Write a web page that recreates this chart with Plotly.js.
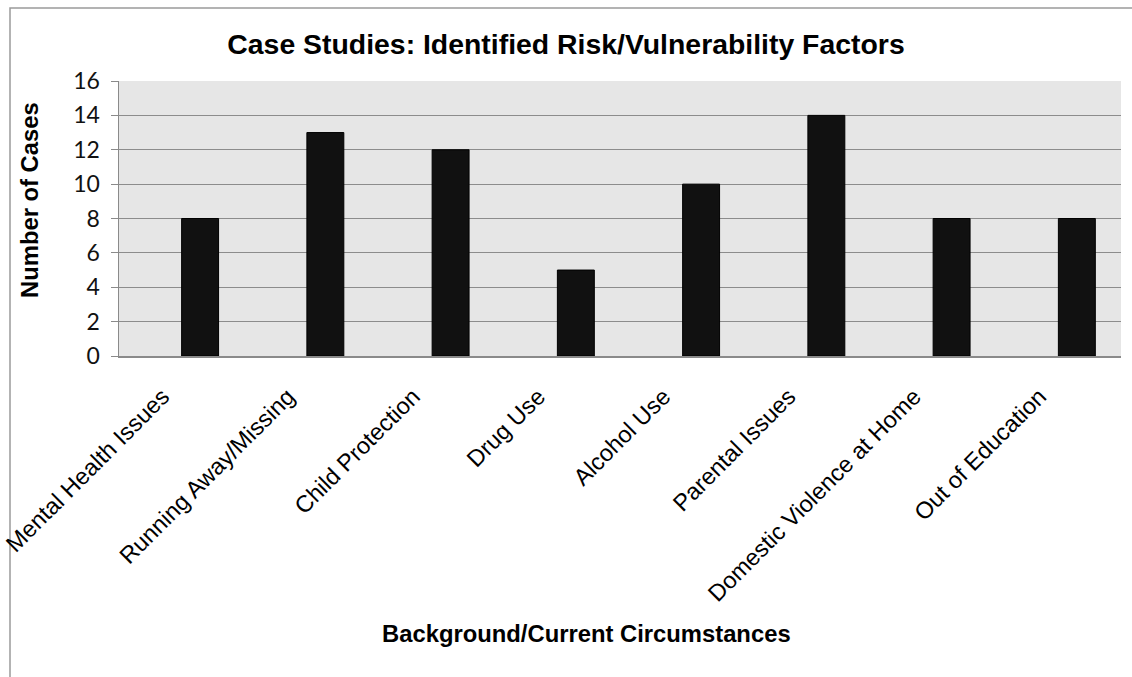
<!DOCTYPE html>
<html>
<head>
<meta charset="utf-8">
<script src="https://cdn.plot.ly/plotly-3.0.1.min.js"></script>
<style>html,body{margin:0;padding:0;background:#fff;}#chart{width:1132px;height:677px;}</style>
</head>
<body>
<div id="chart"></div>
<script>
const categories = ["Mental Health Issues","Running Away/Missing","Child Protection","Drug Use","Alcohol Use","Parental Issues","Domestic Violence at Home","Out of Education"];
const cases = [8, 13, 12, 5, 10, 14, 8, 8];
const yTicks = [0, 2, 4, 6, 8, 10, 12, 14, 16];

const trace = {
  type: 'bar',
  x: categories,
  y: cases,
  offset: 0,
  width: 0.295,
  marker: {color: '#111111', line: {color: '#000000', width: 1}},
  hoverinfo: 'x+y'
};

const layout = {
  width: 1132, height: 677,
  margin: {l: 119, r: 11, t: 81, b: 321, pad: 0},
  paper_bgcolor: '#ffffff',
  plot_bgcolor: '#e6e6e6',
  showlegend: false,
  title: {text: 'Case Studies: Identified Risk/Vulnerability Factors', font: {family: 'Liberation Sans, Arial, sans-serif', size: 28.4, color: '#000', weight: 'bold'}, x: 0.5, xref: 'container', xanchor: 'center', y: 1 - 44/677, yanchor: 'middle'},
  xaxis: {
    type: 'category',
    tickangle: -45,
    tickfont: {family: 'Liberation Sans, Arial, sans-serif', size: 23.5, color: '#000'},
    ticklabelstandoff: 16,
    ticklabelshift: -19,
    showgrid: false,
    showline: true, linecolor: '#8a8a8a', linewidth: 1.5,
    ticks: '', zeroline: false,
    fixedrange: true
  },
  yaxis: {
    range: [0, 16],
    tickvals: yTicks,
    ticktext: yTicks.map(String),
    tickfont: {family: 'Lato, Carlito, sans-serif', size: 23, color: '#111'},
    ticklabelstandoff: 6,
    showgrid: true, gridcolor: '#8c8c8c', gridwidth: 1,
    showline: true, linecolor: '#8a8a8a', linewidth: 1.5,
    ticks: 'outside', ticklen: 7, tickcolor: '#8a8a8a', tickwidth: 1,
    zeroline: false,
    fixedrange: true
  },
  annotations: [
    {text: '<b>Number of Cases</b>', xref: 'paper', yref: 'paper', x: (29 - 119) / 1002, y: (356 - 200) / 275, xanchor: 'center', yanchor: 'middle', textangle: -90, showarrow: false, font: {family: 'Liberation Sans, Arial, sans-serif', size: 23.8, color: '#000'}},
    {text: '<b>Background/Current Circumstances</b>', xref: 'paper', yref: 'paper', x: (586 - 119) / 1002, y: (356 - 633) / 275, xanchor: 'center', yanchor: 'middle', showarrow: false, font: {family: 'Liberation Sans, Arial, sans-serif', size: 23.8, color: '#000'}}
  ],
  shapes: [
    {type: 'rect', xref: 'paper', yref: 'paper', x0: (10 - 119) / 1002, x1: 1.05, y0: -1.3, y1: (356 - 8) / 275, line: {color: '#9a9a9a', width: 1.5}, fillcolor: 'rgba(0,0,0,0)', layer: 'below'}
  ]
};

Plotly.newPlot('chart', [trace], layout, {staticPlot: true, displayModeBar: false});
</script>
</body>
</html>
